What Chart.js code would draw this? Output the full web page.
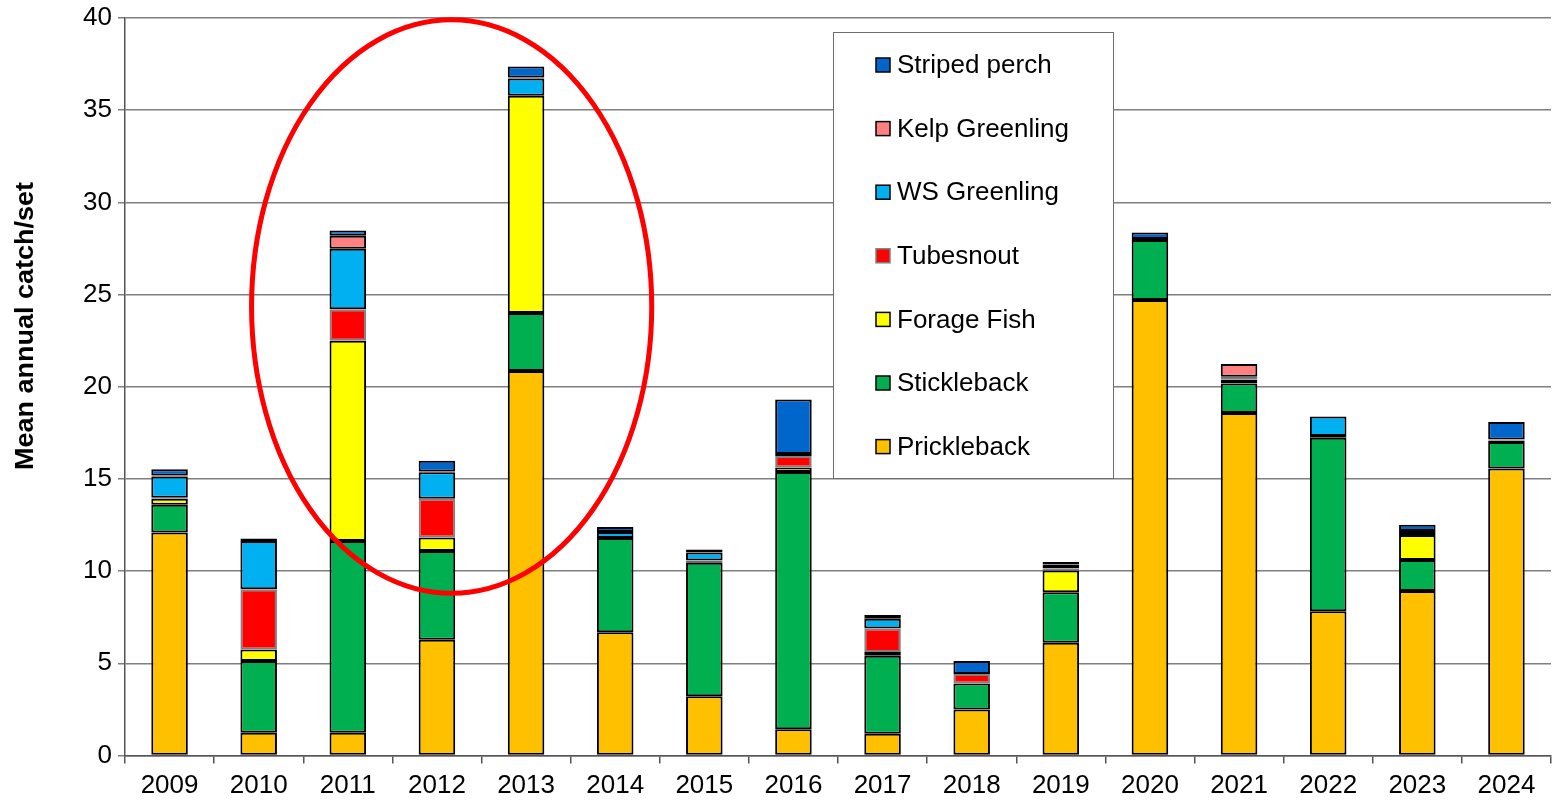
<!DOCTYPE html>
<html>
<head>
<meta charset="utf-8">
<script src="https://cdn.jsdelivr.net/npm/chart.js@4/dist/chart.umd.min.js"></script>
<style>
  html, body { margin: 0; padding: 0; background: #fff; }
  #wrap { width: 1553px; height: 800px; position: relative; }
</style>
</head>
<body>
<div id="wrap"><canvas id="catchChart"></canvas></div>
<script>
const years = ['2009', '2010', '2011', '2012', '2013', '2014', '2015', '2016', '2017', '2018', '2019', '2020', '2021', '2022', '2023', '2024'];

const prickleback   = [12.1, 1.23, 1.23, 6.28, 20.86, 6.68, 3.22, 1.43, 1.18, 2.5, 6.12, 24.7, 18.58, 7.82, 8.92, 15.56];
const stickleback   = [1.5, 3.9, 10.4, 4.81, 3.14, 5.12, 7.24, 13.95, 4.23, 1.41, 2.73, 3.26, 1.6, 9.41, 1.68, 1.45];
const forageFish    = [0.33, 0.62, 10.86, 0.74, 11.78, 0, 0.07, 0.24, 0.2, 0, 1.19, 0.05, 0.21, 0.1, 1.36, 0.08];
const tubesnout     = [0.05, 3.27, 1.71, 2.1, 0, 0, 0.05, 0.63, 1.28, 0.51, 0.12, 0, 0.1, 0, 0, 0.05];
const wsGreenling   = [1.15, 2.62, 3.29, 1.43, 0.94, 0.32, 0.43, 0.1, 0.53, 0, 0.2, 0, 0.05, 1.06, 0.22, 0];
const kelpGreenling = [0.05, 0, 0.7, 0.05, 0.05, 0, 0, 0, 0, 0, 0.03, 0, 0.69, 0, 0, 0];
const stripedPerch  = [0.35, 0.13, 0.29, 0.57, 0.6, 0.28, 0.16, 2.96, 0.2, 0.7, 0.1, 0.35, 0, 0, 0.34, 0.95];

const yTicks = [0, 5, 10, 15, 20, 25, 30, 35, 40];

const FONT = "'Liberation Sans', Arial, sans-serif";

function series(label, data, color, border) {
    return {
        label: label,
        data: data,
        backgroundColor: color,
        borderColor: border || '#000000',
        borderWidth: 2,
        borderSkipped: false,
        barPercentage: 0.41,
        categoryPercentage: 1.0
    };
}

// legend box drawn on top of the plot, like the Excel one
const boxLegend = {
    id: 'boxLegend',
    afterDraw(chart) {
        const ctx = chart.ctx;
        const left = 833, top = 32, w = 280, h = 446;
        ctx.save();
        ctx.fillStyle = '#ffffff';
        ctx.fillRect(left, top, w, h);
        ctx.strokeStyle = '#6e6e6e';
        ctx.lineWidth = 1;
        ctx.strokeRect(left + 0.5, top + 0.5, w, h);
        const items = chart.data.datasets.slice().reverse();
        ctx.font = '26px ' + FONT;
        ctx.textBaseline = 'middle';
        items.forEach((ds, i) => {
            const cy = 65 + i * 63.6;
            ctx.fillStyle = ds.backgroundColor;
            ctx.fillRect(876, cy - 7, 14, 14);
            ctx.strokeStyle = ds.borderColor;
            ctx.lineWidth = 1.5;
            ctx.strokeRect(876, cy - 7, 14, 14);
            ctx.fillStyle = '#000000';
            ctx.fillText(ds.label, 897, cy + 1);
        });
        ctx.restore();
    }
};

// y title sits a bit above the middle in the original
const yTitle = {
    id: 'yTitle',
    afterDraw(chart) {
        const ctx = chart.ctx;
        ctx.save();
        ctx.translate(33, 326);
        ctx.rotate(-Math.PI / 2);
        ctx.scale(1.08, 1);
        ctx.font = 'bold 25px ' + FONT;
        ctx.fillStyle = '#000000';
        ctx.textAlign = 'center';
        ctx.textBaseline = 'alphabetic';
        ctx.fillText('Mean annual catch/set', 0, 0);
        ctx.restore();
    }
};

// red ring round 2011-2013
const ring = {
    id: 'ring',
    afterDraw(chart) {
        const x = chart.scales.x, y = chart.scales.y;
        const x0 = x.getPixelForValue(0.92), x1 = x.getPixelForValue(5.41);
        const y0 = y.getPixelForValue(39.9), y1 = y.getPixelForValue(8.8);
        const ctx = chart.ctx;
        ctx.save();
        ctx.beginPath();
        ctx.ellipse((x0 + x1) / 2, (y0 + y1) / 2, (x1 - x0) / 2, (y1 - y0) / 2, 0, 0, Math.PI * 2);
        ctx.strokeStyle = '#ff0000';
        ctx.lineWidth = 5;
        ctx.stroke();
        ctx.restore();
    }
};

const ctx = document.getElementById('catchChart').getContext('2d');
new Chart(ctx, {
    type: 'bar',
    data: {
        labels: years,
        datasets: [
            series('Prickleback', prickleback, '#FFC000'),
            series('Stickleback', stickleback, '#00B050'),
            series('Forage Fish', forageFish, '#FFFF00'),
            series('Tubesnout', tubesnout, '#FF0000', '#808080'),
            series('WS Greenling', wsGreenling, '#00B0F0'),
            series('Kelp Greenling', kelpGreenling, '#FF8080'),
            series('Striped perch', stripedPerch, '#0066CC')
        ]
    },
    options: {
        responsive: true,
        maintainAspectRatio: false,
        animation: false,
        layout: { padding: { top: 0, right: 2, left: 0, bottom: 0 } },
        scales: {
            x: {
                stacked: true,
                grid: {
                    offset: true,
                    drawOnChartArea: false,
                    tickLength: 8,
                    color: '#555555',
                    lineWidth: 1.5
                },
                border: { color: '#555555', width: 1.5 },
                ticks: {
                    color: '#000000',
                    font: { family: FONT, size: 26 },
                    padding: 7,
                    maxRotation: 0
                },
                afterFit(scale) { scale.height = 44.5; }
            },
            y: {
                stacked: true,
                min: 0,
                max: 40,
                afterBuildTicks(scale) { scale.ticks = yTicks.map(v => ({ value: v })); },
                grid: {
                    color: '#7f7f7f',
                    lineWidth: 1.5,
                    tickLength: 7
                },
                border: { color: '#555555', width: 1.5 },
                ticks: {
                    color: '#000000',
                    font: { family: FONT, size: 26 },
                    padding: 6
                },
                afterFit(scale) {
                    scale.width = 125;
                    scale.paddingTop = 18;
                }
            }
        },
        plugins: {
            legend: { display: false },
            tooltip: { enabled: false }
        }
    },
    plugins: [boxLegend, yTitle, ring]
});
</script>
</body>
</html>
